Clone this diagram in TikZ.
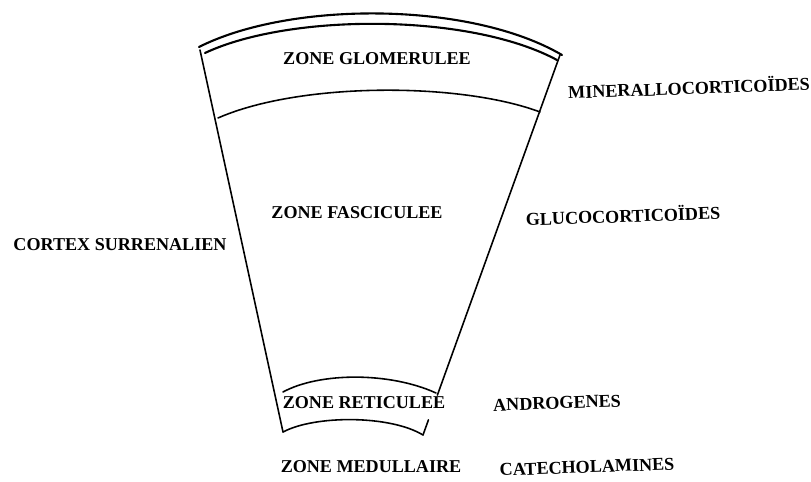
\documentclass[tikz,border=0pt]{standalone}
\usepackage{fontspec}
\setmainfont{Liberation Serif}
\usepackage{tikz}
\usetikzlibrary{positioning, calc}

\begin{document}
\begin{tikzpicture}[
  x=0.02cm, y=-0.02cm,
  zonetext/.style={font=\fontsize{10.3}{12}\selectfont\bfseries, inner sep=1pt},
  hormtext/.style={zonetext, rotate=2},
  rim/.style={line width=1.2pt, line cap=round},
  wall/.style={line width=0.9pt, line cap=round}
]
  \useasboundingbox (0,0) rectangle (811,482);

  % Corners of the fan
  \coordinate (tl) at (200,50);
  \coordinate (tr) at (560,55);
  \coordinate (bl) at (283,432);
  \coordinate (br) at (423,435);

  % Outer rim (double line)
  \draw[rim] (199,47) .. controls (290,1) and (470,1) .. (562,55);
  \draw[rim] (205,53) .. controls (290,13) and (470,13) .. (557,60);

  % Side walls
  \draw[wall] (tl) -- (bl);
  \draw[wall] (tr) -- ($(tr)!0.895!(br)$);
  \draw[wall] ($(tr)!0.96!(br)$) -- (br);

  % Zone boundaries
  \draw[wall] (218,118) .. controls (300,82) and (460,82) .. (540,112);
  \draw[wall] (283,392) .. controls (320,372) and (390,372) .. (436,393);
  \draw[wall] (bl) .. controls (315,415) and (390,415) .. (br);

  % Zone labels
  \node[zonetext] (glom) at (377,59) {ZONE GLOMERULEE};
  \node[zonetext] (fasc) at (357,213) {ZONE FASCICULEE};
  \node[zonetext] (reti) at (364,403) {ZONE RETICULEE};
  \node[zonetext] (medu) at (371,467) {ZONE MEDULLAIRE};
  \node[zonetext] (cort) at (120,245) {CORTEX SURRENALIEN};

  % Hormones
  \node[hormtext] (mine) at (689,87) {MINERALLOCORTICOÏDES};
  \node[hormtext] (gluc) at (623,215) {GLUCOCORTICOÏDES};
  \node[hormtext] (andr) at (557,403) {ANDROGENES};
  \node[hormtext] (cate) at (587,467) {CATECHOLAMINES};
\end{tikzpicture}
\end{document}
